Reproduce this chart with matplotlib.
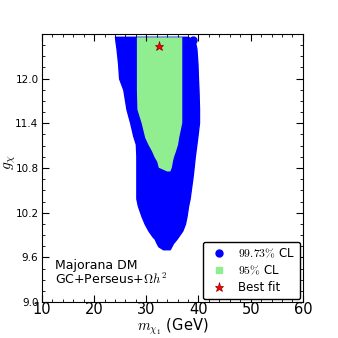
import matplotlib
matplotlib.use('Agg')
import matplotlib.pyplot as plt
from matplotlib.ticker import MultipleLocator

plt.rcParams['mathtext.fontset'] = 'cm'

# 99.73% CL region, edges (g, m_left, m_right)
g_blue = [12.56, 12.50, 12.40, 12.20, 12.00, 11.85, 11.59, 11.41, 11.23, 11.12,
          10.96, 10.70, 10.39, 10.29, 10.15, 10.05, 9.96, 9.88, 9.85, 9.79, 9.75, 9.71]
m_blue_lo = [24.0, 24.1, 24.3, 24.6, 24.8, 25.6, 26.2, 26.9, 27.5, 28.0,
             28.1, 28.1, 28.1, 28.4, 29.1, 29.7, 30.4, 31.2, 31.6, 32.0, 32.3, 33.2]
m_blue_hi = [38.0, 39.3, 39.6, 39.8, 39.9, 40.0, 40.1, 40.1, 39.8, 39.6,
             39.3, 38.9, 38.3, 38.0, 37.7, 37.4, 36.9, 36.1, 35.8, 35.1, 34.8, 34.5]

# 95% CL region
g_green = [12.56, 11.85, 11.59, 11.41, 11.21, 11.12, 11.03, 10.95, 10.89, 10.81, 10.76]
m_green_lo = [28.1, 28.1, 28.2, 29.0, 29.7, 30.3, 31.0, 31.5, 32.0, 32.3, 33.9]
m_green_hi = [36.8, 36.8, 36.8, 36.8, 36.2, 36.0, 35.6, 35.2, 35.0, 34.8, 34.5]

# a stray point outside the main region
m_stray = [38.9]
g_stray = [12.52]

best_m = [32.4]
best_g = [12.43]

fig = plt.figure(figsize=(3.38, 3.38), dpi=100)
ax = fig.add_axes([0.124, 0.106, 0.772, 0.794])

ax.fill_betweenx(g_blue, m_blue_lo, m_blue_hi, color='blue', lw=1, edgecolor='blue')
ax.plot(m_stray, g_stray, 'o', color='blue', ms=5)
ax.fill_betweenx(g_green, m_green_lo, m_green_hi, color='lightgreen', lw=0)
ax.plot(best_m, best_g, '*', color='red', mec='darkred', mew=0.5, ms=6.5)

# legend handles
ax.plot([], [], 'o', color='blue', ms=5, label=r'$99.73\%$ CL')
ax.plot([], [], 's', color='lightgreen', ms=5, label=r'$95\%$ CL')
ax.plot([], [], '*', color='red', mec='darkred', mew=0.5, ms=6.5, label='Best fit')
ax.legend(loc='lower right', fontsize=8.5, handletextpad=0.6, borderaxespad=0.25,
          labelspacing=0.35, borderpad=0.4, fancybox=True, edgecolor='black',
          framealpha=1)

ax.text(0.05, 0.055, 'Majorana DM\nGC+Perseus+$\\Omega h^2$', transform=ax.transAxes,
        fontsize=9, va='bottom', ha='left', linespacing=1.05)

ax.set_xlim(10, 60)
ax.set_ylim(9.0, 12.6)
ax.xaxis.set_major_locator(MultipleLocator(10))
ax.xaxis.set_minor_locator(MultipleLocator(2))
ax.yaxis.set_minor_locator(MultipleLocator(0.15))
ax.tick_params(which='both', direction='in', top=True, right=True)
ax.tick_params(which='major', length=5)
ax.tick_params(which='minor', length=2.5)
ax.tick_params(axis='x', labelsize=10.5, pad=0)
ax.tick_params(axis='y', labelsize=7.5, pad=2.5)
ax.set_yticks([9.0, 9.6, 10.2, 10.8, 11.4, 12.0])
ax.set_yticklabels(['9.0', '9.6', '10.2', '10.8', '11.4', '12.0'])

ax.set_xlabel(r'$m_{\chi_1}$ (GeV)', fontsize=10.5)
ax.xaxis.set_label_coords(0.5, -0.055)
ax.set_ylabel(r'$g_{\chi}$', fontsize=11)
ax.yaxis.set_label_coords(-0.093, 0.52)

fig.savefig('out.png', dpi=100)
